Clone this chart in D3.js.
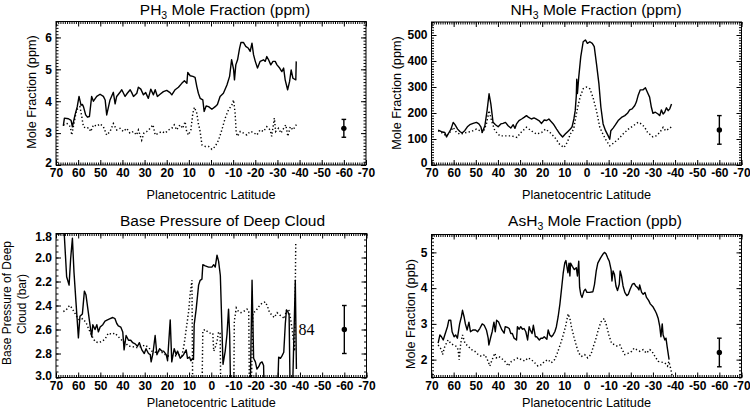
<!DOCTYPE html>
<html><head><meta charset="utf-8">
<script src="https://cdn.jsdelivr.net/npm/d3@7"></script>
<style>
body{margin:0;background:#fff}
svg{display:block;background:#fff}
text{font-family:"Liberation Sans",Arial,Helvetica,sans-serif;fill:#000}
</style></head><body>
<svg id="c" width="750" height="408"></svg>
<script>
// ---------- tick labels ----------
const latTicks = [70,60,50,40,30,20,10,0,-10,-20,-30,-40,-50,-60,-70];
const ph3Ticks = [2,3,4,5,6];
const nh3Ticks = [0,100,200,300,400,500];
const cloudTicks = [1.8,2.0,2.2,2.4,2.6,2.8,3.0];
const ash3Ticks = [2,3,4,5];

// ---------- PH3 (ppm) [latitude, value] ----------
const ph3Solid = [[66.7,3.23],[66.2,3.47],[64.4,3.45],[63.2,3.40],[62.6,3.20],[61.4,3.57],[60.4,3.83],[59.6,4.15],[58.7,3.88],[58.1,3.90],[57.6,3.83],[56.6,3.57],[55.8,3.50],[54.9,3.52],[53.9,4.15],[53.1,4.00],[51.6,4.15],[50.1,4.22],[48.6,4.15],[47.8,4.04],[47.1,3.57],[45.6,4.04],[44.1,4.28],[43.3,3.92],[42.6,4.15],[41.1,4.28],[40.3,4.36],[38.8,4.15],[37.8,4.25],[36.5,4.36],[35.8,4.27],[35.0,4.15],[33.5,4.25],[32.8,4.44],[31.7,4.38],[30.5,4.20],[29.5,4.27],[28.3,4.09],[27.2,4.38],[26.0,4.20],[25.2,4.36],[24.2,4.15],[23.0,4.22],[21.5,4.30],[20.0,4.34],[18.5,4.27],[17.7,4.20],[16.2,4.36],[14.7,4.44],[13.2,4.56],[12.0,4.64],[10.9,4.56],[10.5,4.90],[9.4,4.80],[8.2,4.78],[7.2,4.75],[6.4,4.46],[5.7,4.25],[4.9,4.09],[3.7,4.04],[3.1,3.68],[2.2,3.85],[1.1,3.83],[-0.4,3.75],[-1.9,3.83],[-2.9,3.90],[-4.1,4.15],[-5.6,4.25],[-7.2,4.51],[-8.4,4.78],[-9.3,5.30],[-10.2,5.00],[-10.6,4.67],[-11.2,5.14],[-12.0,5.30],[-12.9,5.66],[-13.5,5.84],[-14.7,5.84],[-15.7,5.72],[-16.9,5.66],[-17.7,5.56],[-18.5,5.82],[-19.2,5.46],[-20.0,5.25],[-21.0,5.04],[-22.2,5.25],[-23.7,5.30],[-24.5,5.25],[-25.2,5.40],[-26.0,5.30],[-27.0,5.14],[-28.0,5.25],[-29.0,5.25],[-29.8,5.14],[-31.0,5.04],[-32.0,4.93],[-32.8,5.04],[-33.5,4.67],[-34.6,4.36],[-35.5,4.62],[-36.2,4.98],[-37.0,4.72],[-38.3,4.67],[-38.5,5.25]];
const ph3Dotted = [[66.7,3.25],[65.0,3.30],[63.5,3.20],[62.9,2.94],[61.9,3.30],[60.7,3.73],[59.2,3.83],[58.5,3.57],[57.6,3.20],[56.4,3.15],[55.3,3.17],[54.3,3.05],[53.1,3.26],[51.6,3.22],[50.1,3.29],[48.6,3.20],[47.1,2.94],[45.6,3.05],[44.1,3.30],[42.6,3.10],[41.1,3.15],[39.6,3.05],[38.1,3.15],[36.6,3.00],[35.1,3.05],[33.6,2.94],[32.8,3.10],[31.3,2.78],[30.3,3.00],[29.0,3.05],[27.5,3.15],[26.2,3.26],[25.2,2.94],[23.7,3.00],[22.2,3.05],[20.7,3.00],[19.2,3.10],[17.7,3.15],[16.6,3.26],[15.5,3.10],[14.0,3.26],[12.8,3.15],[11.7,3.36],[11.0,3.05],[10.2,2.94],[9.1,3.10],[8.2,3.62],[7.5,3.81],[6.4,3.62],[5.7,3.30],[4.9,3.05],[4.1,2.63],[2.6,2.58],[1.1,2.58],[-0.4,2.49],[-1.9,2.58],[-3.4,2.78],[-4.9,3.10],[-6.4,3.47],[-7.9,3.73],[-9.4,3.88],[-10.2,4.04],[-10.9,3.62],[-11.4,3.00],[-12.0,2.90],[-13.2,3.05],[-14.7,3.00],[-16.2,2.94],[-17.7,3.05],[-19.2,3.02],[-20.7,2.94],[-22.2,3.10],[-23.7,3.05],[-25.2,3.20],[-26.7,3.10],[-27.4,2.90],[-28.6,3.47],[-29.2,3.05],[-30.5,3.15],[-31.6,3.00],[-32.8,3.15],[-33.8,3.26],[-34.7,2.90],[-35.8,3.20],[-37.0,3.10],[-38.0,3.20],[-38.8,3.30]];
const ph3Err = [-60, 3.15, 2.87, 3.43];

// ---------- NH3 (ppm) ----------
const nh3Solid = [[67,134],[65.5,128],[64,125],[63.2,108],[62.1,125],[61.2,138],[60.2,164],[59.4,155],[58.2,138],[57.2,129],[56.2,123],[55,132],[53.8,147],[52.7,155],[51.2,160],[49.7,164],[48.6,158],[47.7,147],[47.1,125],[45.9,151],[44.9,209],[44,274],[43.2,235],[42.2,164],[41.1,155],[39.9,147],[38.7,158],[37.7,160],[36.6,164],[35.4,151],[34.2,142],[33.1,155],[32.3,141],[31.6,158],[30.5,171],[29.3,177],[28.2,183],[27.1,190],[26.1,183],[24.9,177],[23.7,181],[22.6,176],[21.5,171],[20.3,160],[19.1,173],[18.0,171],[17.0,177],[16.1,168],[15.0,158],[13.5,138],[12.0,119],[10.8,108],[9.6,119],[8.4,129],[7.3,138],[6.5,147],[5.7,177],[5.1,209],[4.6,267],[4.4,330],[4.1,275],[3.5,338],[2.6,416],[1.5,474],[0.5,481],[-0.4,468],[-1.5,474],[-2.6,468],[-3.5,455],[-4.5,390],[-5.6,313],[-6.5,222],[-7.5,158],[-8.6,132],[-9.8,112],[-10.5,99],[-11.0,132],[-12.0,142],[-13.1,155],[-14.3,171],[-15.8,183],[-17.3,190],[-18.5,199],[-19.5,212],[-20.6,216],[-21.8,229],[-22.5,242],[-23.3,267],[-24.3,289],[-25.5,289],[-26.6,297],[-27.5,280],[-28.5,261],[-29.3,222],[-30.0,199],[-31.1,203],[-32.3,196],[-33.1,190],[-33.8,212],[-34.6,196],[-35.3,203],[-36.1,220],[-36.9,209],[-37.6,216],[-38.4,235]];
const nh3Dotted = [[67,132],[65.5,125],[63.3,112],[61.8,125],[60.2,145],[58.7,125],[57.2,119],[55.7,121],[54.2,125],[51.9,129],[49.7,138],[48.2,132],[46.7,125],[45.2,158],[44,209],[42.9,171],[41.4,132],[39.1,112],[36.9,112],[33.9,112],[31.4,106],[29.6,125],[27.1,145],[25,132],[22.6,119],[20.3,125],[18.5,138],[16.5,125],[14.3,106],[12.2,80],[10.2,67],[8.7,87],[7.3,119],[5.8,138],[4.3,209],[2.9,261],[1.5,293],[0,300],[-1.5,293],[-2.9,261],[-4.5,209],[-6.0,145],[-7.4,119],[-9.0,93],[-10.5,74],[-12.0,83],[-14.3,99],[-16.5,119],[-18.9,138],[-21.1,151],[-23.3,164],[-24.8,158],[-26.3,145],[-27.6,125],[-30,108],[-31.4,112],[-33.1,125],[-34.6,145],[-35.7,132],[-37.0,138],[-38.4,147]];
const nh3Err = [-60, 135, 80, 190];

// ---------- Base pressure of deep cloud (bar) ----------
const cloudSolid = [[66.6,1.70],[65.2,2.16],[64.1,2.23],[63.4,2.01],[62.6,1.84],[61.9,2.12],[61.0,2.37],[59.9,2.67],[59.2,2.49],[58.1,2.47],[57.2,2.28],[56.5,2.31],[55.7,2.42],[54.9,2.53],[53.9,2.66],[53.4,2.56],[52.4,2.60],[51.6,2.56],[50.9,2.62],[50.1,2.58],[48.9,2.56],[47.9,2.53],[46.8,2.52],[45.6,2.51],[44.4,2.50],[43.4,2.51],[42.6,2.55],[41.9,2.57],[40.8,2.58],[39.9,2.62],[39.3,2.77],[38.4,2.65],[37.3,2.69],[36.3,2.69],[35.4,2.71],[34.3,2.72],[33.3,2.74],[32.4,2.71],[31.3,2.77],[30.2,2.80],[29.4,2.76],[28.3,2.80],[27.5,2.81],[27.1,2.87],[26.3,2.80],[25.3,2.65],[24.5,2.81],[23.3,2.76],[22.3,2.78],[21.5,2.78],[20.3,2.81],[19.7,2.86],[18.5,2.52],[17.8,2.87],[16.7,2.76],[15.8,2.81],[15.2,2.78],[14.0,2.84],[12.5,2.81],[11.3,2.77],[10.7,2.84],[9.8,2.83],[9.2,2.86],[8.3,2.84],[8.0,2.85],[7.7,2.56],[6.8,2.43],[5.7,2.23],[5.0,2.19],[4.2,2.18],[3.8,2.06],[2.7,2.07],[1.2,2.08],[-0.3,2.08],[-1.1,2.06],[-1.8,2.08],[-2.6,1.98],[-3.3,2.03],[-4.1,2.15],[-5.3,2.89],[-6.3,2.78],[-7.1,2.64],[-7.8,2.43],[-8.3,2.64],[-8.9,3.30],[-17.4,3.30],[-18.4,2.19],[-19.1,2.84],[-19.9,2.87],[-20.6,2.93],[-21.4,2.91],[-22.1,2.88],[-22.9,2.87],[-23.6,2.90],[-24.0,3.30],[-29.6,3.30],[-30.4,2.83],[-31.2,2.84],[-31.9,2.82],[-32.7,2.79],[-33.4,2.55],[-33.9,2.44],[-34.5,2.45],[-35.1,2.48],[-35.7,3.30],[-36.4,3.30],[-37.9,2.19],[-38.4,2.93]];
const cloudDotted = [[66.7,2.45],[65.5,2.44],[64.4,2.41],[63.7,2.40],[62.9,2.42],[61.9,2.45],[60.7,2.49],[59.5,2.52],[58.0,2.51],[56.5,2.54],[55.4,2.59],[53.9,2.65],[52.4,2.70],[50.9,2.71],[49.4,2.70],[47.9,2.68],[46.4,2.63],[44.9,2.64],[43.4,2.63],[41.9,2.66],[40.3,2.69],[38.8,2.71],[37.3,2.74],[35.8,2.74],[34.3,2.75],[32.8,2.75],[31.3,2.74],[29.8,2.73],[28.3,2.75],[26.8,2.78],[25.3,2.79],[23.8,2.78],[22.3,2.79],[20.8,2.81],[19.3,2.82],[17.8,2.82],[16.3,2.82],[14.7,2.81],[13.2,2.82],[12.2,2.72],[11.3,2.60],[10.2,2.45],[9.5,2.30],[8.7,2.19],[8.3,3.30],[4.3,3.30],[3.8,2.61],[2.7,2.60],[1.6,2.62],[0.5,2.63],[-0.7,2.63],[-1.1,2.78],[-1.8,2.75],[-2.6,2.70],[-3.3,2.62],[-4.0,2.63],[-4.4,3.30],[-10.1,3.30],[-10.4,2.53],[-11.3,2.42],[-12.3,2.45],[-13.4,2.46],[-14.6,2.45],[-16.1,2.43],[-16.9,2.44],[-17.3,3.30],[-17.8,3.30],[-18.8,2.46],[-19.9,2.45],[-21.4,2.41],[-22.9,2.38],[-24.4,2.37],[-25.4,2.41],[-26.3,2.46],[-27.4,2.48],[-28.4,2.50],[-29.7,2.46],[-30.9,2.48],[-31.9,2.49],[-33.0,2.51],[-33.9,2.44],[-34.9,2.43],[-35.5,2.48],[-36.5,2.60],[-37.6,2.78],[-38.1,1.88]];
const cloudErr = [-60, 2.6, 2.4, 2.8];
const cloudNote = "84";

// ---------- AsH3 (ppb) ----------
const ash3Solid = [[67,2.46],[66.2,2.69],[65.5,2.64],[64.7,2.55],[64,2.69],[62.8,2.92],[62.2,3.1],[61.3,3.1],[60.7,2.78],[59.8,2.64],[59.1,2.69],[58.3,2.6],[57.3,3.0],[56.5,3.2],[56.0,3.38],[55.3,3.2],[54.7,3.0],[53.9,2.83],[53.1,3.05],[52.4,2.78],[51.2,2.83],[50.1,2.83],[49.2,2.78],[48.2,2.87],[47.1,3.0],[46.2,2.96],[45.2,2.83],[44.4,2.6],[44.1,2.41],[43.2,2.64],[42.6,2.78],[41.8,3.05],[41.2,2.78],[40.6,3.1],[39.7,3.05],[39.1,2.96],[38.2,2.83],[37.2,2.74],[36.7,2.92],[35.7,2.9],[34.9,2.87],[34.2,2.73],[33.5,2.73],[32.7,2.6],[31.6,2.55],[31.2,2.92],[30.4,2.85],[29.7,2.92],[28.9,2.85],[28.2,2.87],[27.4,2.78],[26.6,2.55],[25.9,2.92],[25.4,2.83],[24.6,2.73],[24.0,2.96],[23.1,2.64],[22.5,2.64],[21.3,2.55],[20.6,2.6],[19.8,2.6],[19.1,2.64],[17.9,2.57],[17.3,2.83],[16.6,2.69],[15.8,2.64],[15.1,2.69],[14.3,2.78],[13.6,2.92],[12.8,3.2],[12.0,3.56],[11.2,4.02],[10.5,4.43],[9.8,4.71],[9.3,4.77],[8.4,4.43],[7.9,4.7],[7.5,4.34],[7.2,4.7],[6.4,4.61],[5.5,4.52],[4.6,4.57],[4.1,4.34],[3.5,4.75],[3.1,4.02],[2.6,3.83],[2.0,3.74],[1.1,3.93],[0.5,3.97],[-0.2,3.88],[-1.4,3.88],[-2.9,3.9],[-3.6,4.1],[-4.4,4.48],[-5.1,4.7],[-6.3,4.84],[-7.3,4.94],[-8.1,5.0],[-8.8,4.96],[-9.6,4.84],[-10.3,4.75],[-11.1,4.52],[-11.5,4.2],[-12.0,4.48],[-12.6,4.39],[-13.3,4.06],[-14.0,3.93],[-14.8,4.11],[-15.2,4.48],[-15.8,4.34],[-16.5,4.06],[-17.3,3.88],[-18.2,3.79],[-18.9,3.83],[-19.7,3.97],[-20.7,4.11],[-21.5,4.13],[-22.2,4.06],[-23.0,4.02],[-23.7,3.95],[-24.0,4.09],[-24.9,3.88],[-25.6,3.83],[-26.4,3.88],[-27.1,3.74],[-28.1,3.65],[-28.8,3.56],[-30.1,3.47],[-30.9,3.38],[-31.6,3.29],[-32.4,3.15],[-33.1,2.92],[-33.6,2.64],[-34.2,3.0],[-34.6,2.69],[-35.4,2.55],[-35.9,2.6],[-36.4,2.37],[-37.3,2.0]];
const ash3Dotted = [[67,2.41],[65.5,2.28],[65,2.14],[64,2.37],[62.5,2.55],[61.3,2.46],[60.2,2.41],[58.7,2.37],[58,2.28],[57.5,2.0],[56.8,2.46],[56,2.69],[54.9,2.46],[53.4,2.37],[51.9,2.28],[50.4,2.23],[48.9,2.14],[47.4,2.09],[45.9,2.14],[44.4,1.95],[43.7,1.82],[42.6,2.0],[41.4,2.18],[40.7,2.05],[39.6,2.09],[38.7,2.05],[37.7,2.0],[36.2,1.91],[35.4,1.82],[33.9,1.95],[32.4,2.0],[30.9,2.05],[29.4,2.0],[27.9,1.96],[26.4,2.05],[24.9,2.0],[23.4,1.91],[21.9,1.82],[20.4,1.86],[18.9,1.95],[17.4,2.0],[15.9,1.91],[14.4,2.0],[13.2,2.18],[11.9,2.41],[10.5,2.69],[9.5,2.92],[8.3,3.28],[7.5,3.15],[6.8,2.92],[5.7,2.64],[4.5,2.37],[3.5,2.18],[2.3,2.09],[0.8,2.14],[-0.5,2.05],[-2.0,2.14],[-3.1,2.37],[-4.1,2.55],[-5.3,2.83],[-6.5,3.05],[-8.0,3.15],[-9.0,2.96],[-10.1,2.69],[-11.3,2.46],[-12.8,2.41],[-14.0,2.37],[-15.1,2.41],[-16.1,2.28],[-17.3,2.14],[-18.9,2.18],[-20.4,2.23],[-21.5,2.32],[-22.6,2.28],[-24.1,2.23],[-25.6,2.28],[-27.1,2.18],[-28.6,2.28],[-29.6,2.23],[-30.9,2.09],[-32.4,1.95],[-33.9,1.93],[-35.4,1.91],[-36.6,1.82],[-37.2,1.95],[-38.1,1.73],[-38.7,1.54]];
const ash3Err = [-60, 2.2, 1.8, 2.6];

const xLabel = "Planetocentric Latitude";

// ---------- drawing ----------
const svg = d3.select("#c");
const FONT = '"Liberation Sans", Arial, Helvetica, sans-serif';

function panel(cfg) {
  const x = d3.scaleLinear().domain([70, -70]).range([cfg.x0, cfg.x1]);
  const y = d3.scaleLinear().domain(cfg.yDomain).range(cfg.yRange);
  const yTop = Math.min(cfg.yRange[0], cfg.yRange[1]);
  const yBot = Math.max(cfg.yRange[0], cfg.yRange[1]);
  const g = svg.append("g");
  const clipId = "clip" + cfg.id;
  g.append("clipPath").attr("id", clipId).append("rect")
    .attr("x", cfg.x0).attr("y", yTop).attr("width", cfg.x1 - cfg.x0).attr("height", yBot - yTop);

  const line = d3.line().x(d => x(d[0])).y(d => y(d[1]));
  g.append("path").datum(cfg.dotted).attr("d", line)
    .attr("fill", "none").attr("stroke", "#000").attr("stroke-width", 1.45)
    .attr("stroke-dasharray", "1.3 2.3").attr("clip-path", `url(#${clipId})`);
  g.append("path").datum(cfg.solid).attr("d", line)
    .attr("fill", "none").attr("stroke", "#000").attr("stroke-width", 1.4)
    .attr("stroke-linejoin", "round").attr("clip-path", `url(#${clipId})`);

  // error bar
  const e = cfg.err;
  const ex = x(e[0]);
  g.append("line").attr("x1", ex).attr("x2", ex).attr("y1", y(e[2])).attr("y2", y(e[3]))
    .attr("stroke", "#000").attr("stroke-width", 1.4);
  [e[2], e[3]].forEach(v => g.append("line").attr("x1", ex - 2.3).attr("x2", ex + 2.3)
    .attr("y1", y(v)).attr("y2", y(v)).attr("stroke", "#000").attr("stroke-width", 1.4));
  g.append("circle").attr("cx", ex).attr("cy", y(e[1])).attr("r", 2.7).attr("fill", "#000");

  // axes
  function style(sel, labels) {
    sel.select(".domain").remove();
    sel.selectAll("line").attr("stroke", "#000").attr("stroke-width", 1);
    sel.selectAll("text").style("font-family", FONT).style("font-size", "12px")
      .style("font-weight", "bold").style("display", labels ? null : "none");
  }
  const xMinor = d3.range(70, -70.5, -1);
  const yMinor = d3.range(cfg.yDomain[0], cfg.yDomain[1] + cfg.minor / 2, cfg.minor);
  g.append("g").attr("transform", `translate(0,${yBot})`)
    .call(d3.axisBottom(x).tickValues(latTicks).tickSize(-5).tickPadding(3.6).tickFormat(d => String(d)))
    .call(s => style(s, true));
  g.append("g").attr("transform", `translate(0,${yBot})`)
    .call(d3.axisBottom(x).tickValues(xMinor).tickSize(-2.5).tickFormat(""))
    .call(s => style(s, false));
  g.append("g").attr("transform", `translate(0,${yTop})`)
    .call(d3.axisTop(x).tickValues(latTicks).tickSize(-5).tickFormat(""))
    .call(s => style(s, false));
  g.append("g").attr("transform", `translate(0,${yTop})`)
    .call(d3.axisTop(x).tickValues(xMinor).tickSize(-2.5).tickFormat(""))
    .call(s => style(s, false));
  g.append("g").attr("transform", `translate(${cfg.x0},0)`)
    .call(d3.axisLeft(y).tickValues(cfg.yTicks).tickSize(-5).tickPadding(4).tickFormat(cfg.fmt))
    .call(s => style(s, true))
    .call(s => s.selectAll(".tick text").attr("transform", d => {
      const py = y(d);
      if (Math.abs(py - yBot) < 0.5) return "translate(0,-2.2)";
      if (Math.abs(py - yTop) < 0.5) return "translate(0,2.8)";
      return null;
    }));
  g.append("g").attr("transform", `translate(${cfg.x0},0)`)
    .call(d3.axisLeft(y).tickValues(yMinor).tickSize(-2.5).tickFormat(""))
    .call(s => style(s, false));
  g.append("g").attr("transform", `translate(${cfg.x1},0)`)
    .call(d3.axisRight(y).tickValues(cfg.yTicks).tickSize(-5).tickFormat(""))
    .call(s => style(s, false));
  g.append("g").attr("transform", `translate(${cfg.x1},0)`)
    .call(d3.axisRight(y).tickValues(yMinor).tickSize(-2.5).tickFormat(""))
    .call(s => style(s, false));

  g.append("rect").attr("x", cfg.x0).attr("y", yTop).attr("width", cfg.x1 - cfg.x0)
    .attr("height", yBot - yTop).attr("fill", "none").attr("stroke", "#000").attr("stroke-width", 1);

  // title
  const t = g.append("text").attr("x", cfg.titleX).attr("y", cfg.titleY)
    .attr("text-anchor", "middle").style("font-size", "15.5px").style("font-family", FONT);
  t.append("tspan").text(cfg.title[0]);
  if (cfg.title.length > 1) {
    t.append("tspan").text(cfg.title[1]).style("font-size", "10.5px").attr("dy", 3.5);
    t.append("tspan").text(cfg.title[2]).attr("dy", -3.5);
  }
  // x label
  g.append("text").attr("x", (cfg.x0 + cfg.x1) / 2).attr("y", cfg.xlabY)
    .attr("text-anchor", "middle").style("font-size", "12.7px").style("font-family", FONT).text(xLabel);
  // y label
  cfg.ylab.forEach(lab => {
    g.append("text").attr("transform", `translate(${lab.x},${lab.y}) rotate(-90)`)
      .attr("text-anchor", "middle").attr("dy", "0.3em")
      .style("font-size", lab.size + "px").style("font-family", FONT).text(lab.text);
  });
  return {x, y, g};
}

panel({id: 1, x0: 56, x1: 366, yDomain: [2, 6.5], yRange: [165, 21.5], yTicks: ph3Ticks, minor: 0.1,
  fmt: d => String(d), solid: ph3Solid, dotted: ph3Dotted, err: ph3Err,
  title: ["PH", "3", " Mole Fraction (ppm)"], titleX: 225, titleY: 15, xlabY: 198.5,
  ylab: [{text: "Mole Fraction (ppm)", x: 31.7, y: 92, size: 12.7}]});

panel({id: 2, x0: 431.5, x1: 741.5, yDomain: [0, 550], yRange: [165, 22], yTicks: nh3Ticks, minor: 10,
  fmt: d => String(d), solid: nh3Solid, dotted: nh3Dotted, err: nh3Err,
  title: ["NH", "3", " Mole Fraction (ppm)"], titleX: 596, titleY: 15, xlabY: 198.5,
  ylab: [{text: "Mole Fraction (ppm)", x: 397.5, y: 93, size: 12.7}]});

const p3 = panel({id: 3, x0: 56, x1: 366.5, yDomain: [1.8, 3.0], yRange: [233.5, 377.5], yTicks: cloudTicks, minor: 0.05,
  fmt: d3.format(".1f"), solid: cloudSolid, dotted: cloudDotted, err: cloudErr,
  title: ["Base Pressure of Deep Cloud"], titleX: 222.5, titleY: 225.7, xlabY: 406.5,
  ylab: [{text: "Base Pressure of Deep", x: 7, y: 303, size: 12},
         {text: "Cloud (bar)", x: 22.5, y: 304, size: 12}]});
p3.g.append("text").attr("x", p3.x(-39.3)).attr("y", p3.y(2.6) + 5.5)
  .style("font-family", '"Liberation Serif", "Times New Roman", serif').style("font-size", "16px").text(cloudNote);

panel({id: 4, x0: 431.5, x1: 741.5, yDomain: [1.5, 5.5], yRange: [377.5, 234.5], yTicks: ash3Ticks, minor: 0.1,
  fmt: d => String(d), solid: ash3Solid, dotted: ash3Dotted, err: ash3Err,
  title: ["AsH", "3", " Mole Fraction (ppb)"], titleX: 595, titleY: 226, xlabY: 406.5,
  ylab: [{text: "Mole Fraction (ppb)", x: 410.8, y: 314, size: 12.7}]});
</script>
</body></html>
